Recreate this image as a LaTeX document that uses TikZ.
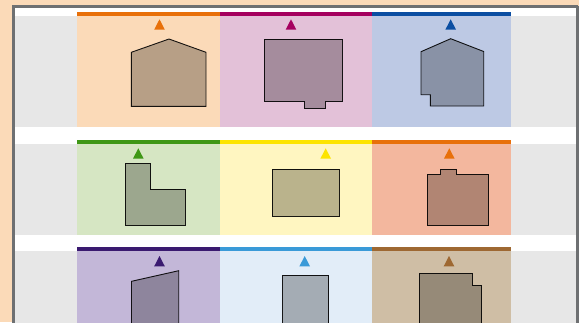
\documentclass[tikz,border=0pt]{standalone}
\usetikzlibrary{calc}
\definecolor{peach}{HTML}{FBDAB8}
\definecolor{bandgray}{HTML}{E7E7E7}
\definecolor{framegray}{HTML}{6E7072}
\definecolor{bgA}{HTML}{FBDAB8}\definecolor{barA}{HTML}{E8700A}
\definecolor{bgB}{HTML}{E3C1D8}\definecolor{barB}{HTML}{A5005F}
\definecolor{bgC}{HTML}{BDC9E4}\definecolor{barC}{HTML}{0B4EA2}
\definecolor{bgD}{HTML}{D6E6C3}\definecolor{barD}{HTML}{3F9716}
\definecolor{bgE}{HTML}{FFF6C1}\definecolor{barE}{HTML}{FDE400}
\definecolor{bgF}{HTML}{F3B79E}\definecolor{barF}{HTML}{E8700A}
\definecolor{bgG}{HTML}{C3B7D8}\definecolor{barG}{HTML}{3A1A70}
\definecolor{bgH}{HTML}{E2EDF8}\definecolor{barH}{HTML}{3A9AD8}
\definecolor{bgI}{HTML}{CFBEA5}\definecolor{barI}{HTML}{9E6832}
\tikzset{
  plan/.style={draw=black, line width=0.9pt, line join=miter, fill=black, fill opacity=0.27, draw opacity=0.9},
}
\newcommand{\mycell}[6]{%
  \fill[#5] (#1,#3) rectangle (#2,#4);
  \fill[#6] (#1,#3-3.6) rectangle (#2,#3);}
\newcommand{\mytri}[3]{%
  \fill[#3] (#1-5.3,#2+10.3) -- (#1+5.3,#2+10.3) -- (#1,#2) -- cycle;}
\begin{document}
\begin{tikzpicture}[x=1pt,y=-1pt]
\useasboundingbox (0,0) rectangle (579,322);
\fill[peach] (0,0) rectangle (579,322);
\fill[white] (13.5,6) rectangle (578,330);
% gray bands
\fill[bandgray] (15,16) rectangle (576,127);
\fill[bandgray] (15,143.5) rectangle (576,235);
\fill[bandgray] (15,251) rectangle (576,330);
% row 1
\mycell{77}{220}{16}{127}{bgA}{barA}
\mycell{220}{372}{16}{127}{bgB}{barB}
\mycell{372}{511}{16}{127}{bgC}{barC}
% row 2
\mycell{77}{220}{143.8}{235}{bgD}{barD}
\mycell{220}{372}{143.8}{235}{bgE}{barE}
\mycell{372}{511}{143.8}{235}{bgF}{barF}
% row 3
\mycell{77}{220}{251}{330}{bgG}{barG}
\mycell{220}{372}{251}{330}{bgH}{barH}
\mycell{372}{511}{251}{330}{bgI}{barI}
% frame
\draw[framegray, line width=2.8pt] (13.4,6.2) -- (578,6.2) (577.8,6.2) -- (577.8,340) (13.4,340) -- (13.4,4.8);
% triangles
\mytri{159.5}{19.3}{barA}
\mytri{291}{19.3}{barB}
\mytri{450.7}{19.3}{barC}
\mytri{138.3}{148.3}{barD}
\mytri{325.7}{148.3}{barE}
\mytri{449.3}{148.3}{barF}
\mytri{159.5}{256}{barG}
\mytri{304.7}{256}{barH}
\mytri{449}{256}{barI}
% plans row 1
\draw[plan] (131.3,106.3) -- (131.3,52.3) -- (169,39) -- (206,52.3) -- (206,106.3) -- cycle;
\draw[plan] (264.3,39) -- (342,39) -- (342,101.7) -- (325,101.7) -- (325,108.3) -- (304.7,108.3) -- (304.7,101.7) -- (264.3,101.7) -- cycle;
\draw[plan] (421,51.7) -- (450.7,38.7) -- (483.7,51.5) -- (483.7,106) -- (430.3,106) -- (430.3,94.7) -- (421,94.7) -- cycle;
% plans row 2
\draw[plan] (125,163.3) -- (150.7,163.3) -- (150.7,189) -- (185,189) -- (185,225.3) -- (125,225.3) -- cycle;
\draw[plan] (272.3,169.3) rectangle (339,216);
\draw[plan] (427.3,174.3) -- (440.7,174.3) -- (440.7,169.3) -- (456.7,169.3) -- (456.7,174.3) -- (488.7,174.3) -- (488.7,225) -- (427.3,225) -- cycle;
% plans row 3
\draw[plan] (131.5,281.3) -- (178.7,270.7) -- (178.7,340) -- (131.5,340) -- cycle;
\draw[plan] (282.5,275.3) rectangle (328.7,340);
\draw[plan] (419.5,273.3) -- (472.3,273.3) -- (472.3,285) -- (481.5,285) -- (481.5,340) -- (419.5,340) -- cycle;
\end{tikzpicture}
\end{document}
